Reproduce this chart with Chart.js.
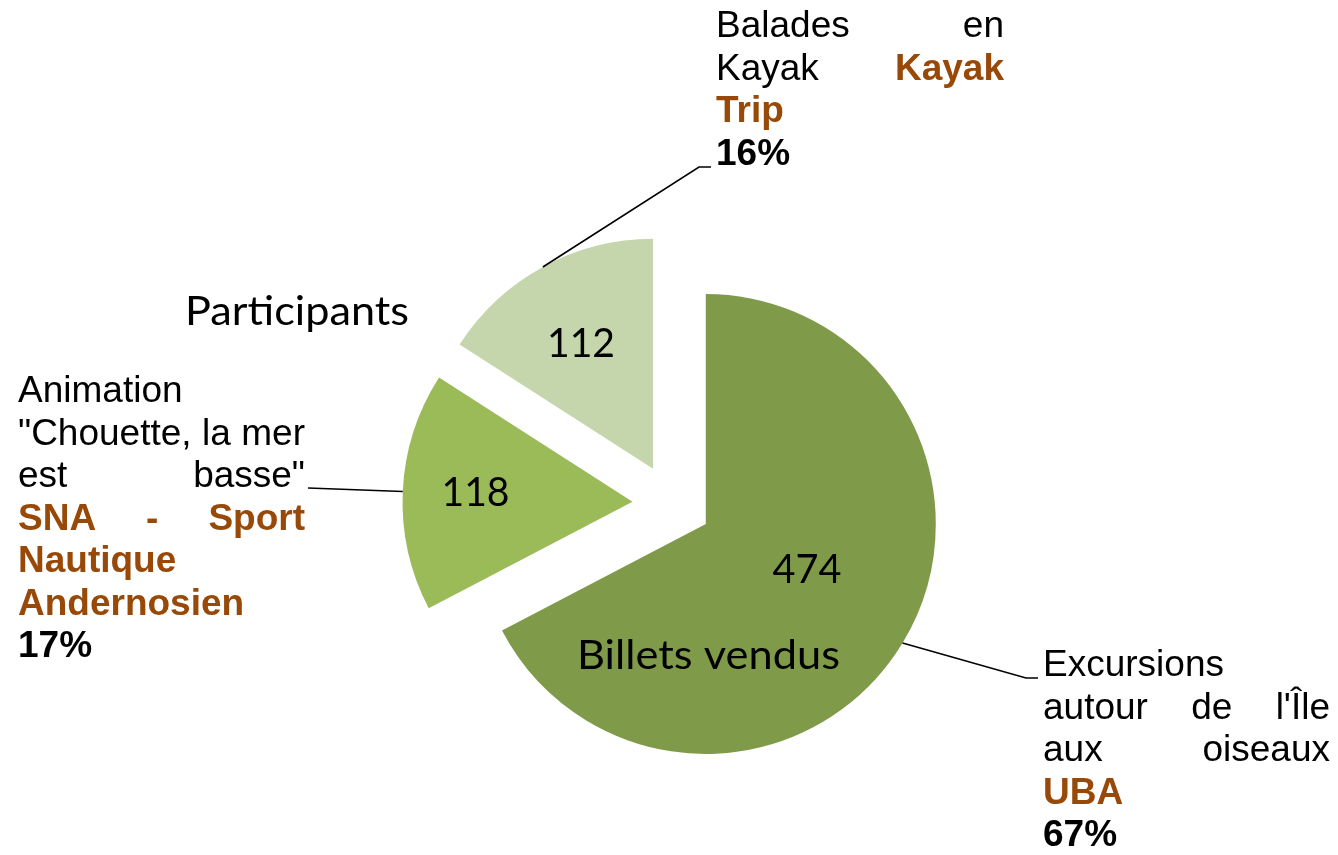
<!DOCTYPE html>
<html lang="fr">
<head>
<meta charset="utf-8">
<title>Participants</title>
<script src="https://cdn.jsdelivr.net/npm/chart.js@4"></script>
<style>
  html, body { margin: 0; padding: 0; background: #fff; }
  #wrap { width: 1338px; height: 855px; position: relative; }
</style>
</head>
<body>
<div id="wrap"><canvas id="pieChart"></canvas></div>
<script>
// parts, dans le sens horaire depuis midi
const categories = ['UBA', 'SNA - Sport Nautique Andernosien', 'Kayak Trip'];
const participants = [474, 118, 112];
const percentLabels = ['67%', '17%', '16%'];
const sliceColors = ['#7F9B4A', '#9BBB59', '#C6D6AC'];

const RADIUS = 230;
const EXPLODE = 39.5;   // éclatement des parts (px)
const BROWN = '#984807';
const FONT_N = '37px "Liberation Sans", Arial, sans-serif';
const FONT_B = 'bold 37px "Liberation Sans", Arial, sans-serif';
const FONT_IN = '"Lato", "Noto Sans", sans-serif';

// blocs de texte des étiquettes (justifiés comme dans Excel)
// n = normal noir, c = gras marron, p = gras noir
const labelBlocks = [
  { idx: 0, left: 1043, right: 1330, top: 676, lh: 42.6, elbow: [[1026, 678], [1038, 678]], lines: [
    { words: [['Excursions', 'n']] },
    { words: [['autour', 'n'], ['de', 'n'], ["l'Île", 'n']], justify: true },
    { words: [['aux', 'n'], ['oiseaux', 'n']], justify: true },
    { words: [[categories[0], 'c']] },
    { words: [[percentLabels[0], 'p']] }
  ] },
  { idx: 1, left: 18, right: 305, top: 402, lh: 42.5, elbow: [[308, 488]], lines: [
    { words: [['Animation', 'n']] },
    { words: [['"Chouette,', 'n'], ['la', 'n'], ['mer', 'n']], justify: true },
    { words: [['est', 'n'], ['basse"', 'n']], justify: true },
    { words: [['SNA', 'c'], ['-', 'c'], ['Sport', 'c']], justify: true },
    { words: [['Nautique', 'c']] },
    { words: [['Andernosien', 'c']] },
    { words: [[percentLabels[1], 'p']] }
  ] },
  { idx: 2, left: 716, right: 1004, top: 37, lh: 42.5, elbow: [[699, 167], [711, 167]], lines: [
    { words: [['Balades', 'n'], ['en', 'n']], justify: true },
    { words: [['Kayak', 'n'], ['Kayak', 'c']], justify: true },
    { words: [['Trip', 'c']] },
    { words: [[percentLabels[2], 'p']] }
  ] }
];

// valeurs dans les parts et textes libres (centre x, ligne de base, largeur visée)
const innerTexts = [
  { text: String(participants[0]), x: 807, y: 583, w: 69 },
  { text: String(participants[1]), x: 475.5, y: 506, w: 68 },
  { text: String(participants[2]), x: 581, y: 357, w: 68 },
  { text: 'Participants', x: 297, y: 325, w: 224 },
  { text: 'Billets vendus', x: 708.5, y: 669, w: 263 }
];

function styleOf(s) {
  if (s === 'n') return { font: FONT_N, color: '#000' };
  if (s === 'c') return { font: FONT_B, color: BROWN };
  return { font: FONT_B, color: '#000' };
}

function drawLine(ctx, words, left, right, y, justify) {
  const widths = words.map(w => { ctx.font = styleOf(w[1]).font; return ctx.measureText(w[0]).width; });
  const total = widths.reduce((a, b) => a + b, 0);
  ctx.font = FONT_N;
  let gap = ctx.measureText(' ').width;
  if (justify && words.length > 1) gap = (right - left - total) / (words.length - 1);
  let x = left;
  words.forEach((w, i) => {
    const st = styleOf(w[1]);
    ctx.font = st.font;
    ctx.fillStyle = st.color;
    ctx.fillText(w[0], x, y);
    x += widths[i] + gap;
  });
}

// éclate chaque part le long de sa bissectrice (rayon inchangé)
const explodePlugin = {
  id: 'explode',
  afterDatasetsUpdate(chart) {
    chart.getDatasetMeta(0).data.forEach(arc => {
      const mid = (arc.startAngle + arc.endAngle) / 2;
      arc.x += Math.cos(mid) * EXPLODE;
      arc.y += Math.sin(mid) * EXPLODE;
    });
  }
};

const labelsPlugin = {
  id: 'pieLabels',
  afterDatasetsDraw(chart) {
    const ctx = chart.ctx;
    const arcs = chart.getDatasetMeta(0).data;
    ctx.save();
    ctx.textBaseline = 'alphabetic';

    // traits de rappel
    ctx.strokeStyle = '#000';
    ctx.lineWidth = 1.6;
    labelBlocks.forEach(b => {
      const arc = arcs[b.idx];
      const mid = (arc.startAngle + arc.endAngle) / 2;
      ctx.beginPath();
      ctx.moveTo(arc.x + Math.cos(mid) * arc.outerRadius, arc.y + Math.sin(mid) * arc.outerRadius);
      b.elbow.forEach(p => ctx.lineTo(p[0], p[1]));
      ctx.stroke();
    });

    // étiquettes externes
    ctx.textAlign = 'left';
    labelBlocks.forEach(b => {
      b.lines.forEach((ln, i) => drawLine(ctx, ln.words, b.left, b.right, b.top + i * b.lh, ln.justify));
    });

    // textes internes
    ctx.fillStyle = '#000';
    ctx.textAlign = 'center';
    innerTexts.forEach(t => {
      ctx.font = '41px ' + FONT_IN;
      const mw = ctx.measureText(t.text).width;
      ctx.save();
      ctx.translate(t.x, t.y);
      ctx.scale(t.w / mw, 1);
      ctx.fillText(t.text, 0, 0);
      ctx.restore();
    });
    ctx.restore();
  }
};

new Chart(document.getElementById('pieChart').getContext('2d'), {
  type: 'pie',
  data: {
    labels: categories,
    datasets: [{
      data: participants,
      backgroundColor: sliceColors,
      borderWidth: 0,
      offset: 0,
      hoverOffset: 0,
      radius: RADIUS
    }]
  },
  options: {
    responsive: true,
    maintainAspectRatio: false,
    animation: false,
    events: [],
    rotation: 0,
    layout: { padding: { left: 6, top: 152, right: 0, bottom: 0 } },
    plugins: {
      legend: { display: false },
      tooltip: { enabled: false }
    }
  },
  plugins: [explodePlugin, labelsPlugin]
});
</script>
</body>
</html>
